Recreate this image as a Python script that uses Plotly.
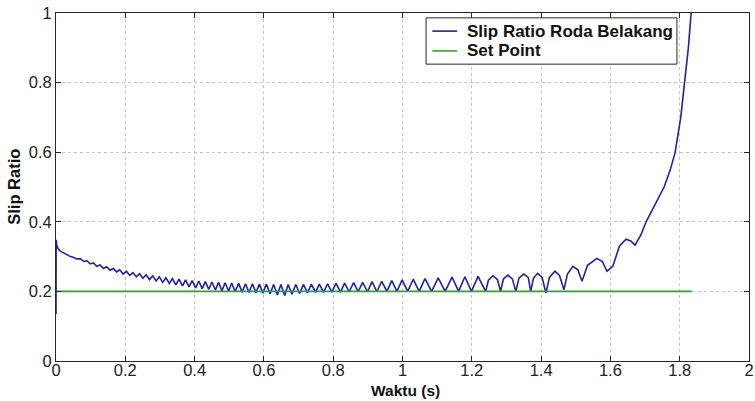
import plotly.graph_objects as go

# Rear-wheel slip ratio response (time in seconds)
time_s = [
    0.000, 0.0005, 0.002, 0.005, 0.010, 0.018, 0.026, 0.034, 0.042,
    0.050, 0.060, 0.070, 0.080, 0.089, 0.099, 0.108, 0.118, 0.127, 0.137,
    0.146, 0.156, 0.165, 0.175, 0.184, 0.194, 0.203, 0.213, 0.222, 0.232,
    0.241, 0.251, 0.260, 0.270, 0.279, 0.289, 0.298, 0.308, 0.317, 0.327,
    0.336, 0.346, 0.355, 0.365, 0.374, 0.384, 0.393, 0.403, 0.412, 0.422,
    0.431, 0.441, 0.450, 0.460, 0.469, 0.479, 0.488, 0.498, 0.507, 0.517,
    0.527, 0.537, 0.547, 0.557, 0.567, 0.577, 0.587, 0.597, 0.607, 0.618,
    0.628, 0.639, 0.649, 0.660, 0.670, 0.681, 0.692, 0.703, 0.714, 0.726,
    0.737, 0.749, 0.760, 0.772, 0.784, 0.796, 0.808, 0.821, 0.833, 0.846,
    0.859, 0.872, 0.885, 0.899, 0.912, 0.926, 0.940, 0.955, 0.969, 0.984,
    0.999, 1.015, 1.031, 1.048, 1.065, 1.084, 1.103, 1.123, 1.143, 1.162,
    1.180, 1.199, 1.218, 1.240, 1.248, 1.261, 1.274, 1.283, 1.291, 1.304,
    1.317, 1.327, 1.336, 1.350, 1.363, 1.370, 1.378, 1.390, 1.403, 1.414,
    1.424, 1.440, 1.453, 1.466, 1.476, 1.492, 1.506, 1.518, 1.534, 1.561,
    1.577, 1.590, 1.607, 1.626, 1.645, 1.659, 1.671, 1.688, 1.703, 1.730,
    1.755, 1.773, 1.787, 1.803, 1.815, 1.825, 1.833,
]
slip_ratio = [
    0.135, 0.348, 0.335, 0.325, 0.318, 0.313, 0.308, 0.304, 0.300,
    0.298, 0.293, 0.294, 0.286, 0.288, 0.279, 0.282, 0.272, 0.276, 0.266,
    0.271, 0.261, 0.266, 0.256, 0.262, 0.250, 0.258, 0.246, 0.254, 0.242,
    0.251, 0.238, 0.248, 0.234, 0.245, 0.230, 0.242, 0.226, 0.239, 0.223,
    0.237, 0.219, 0.235, 0.216, 0.233, 0.213, 0.231, 0.210, 0.230, 0.208,
    0.228, 0.206, 0.227, 0.204, 0.226, 0.202, 0.225, 0.201, 0.224, 0.199,
    0.223, 0.198, 0.222, 0.197, 0.222, 0.196, 0.221, 0.195, 0.221, 0.193,
    0.220, 0.190, 0.220, 0.188, 0.220, 0.192, 0.220, 0.194, 0.220, 0.196,
    0.221, 0.197, 0.221, 0.197, 0.222, 0.198, 0.223, 0.198, 0.224, 0.199,
    0.225, 0.199, 0.226, 0.199, 0.228, 0.199, 0.229, 0.200, 0.231, 0.200,
    0.233, 0.200, 0.235, 0.200, 0.237, 0.200, 0.239, 0.200, 0.241, 0.200,
    0.242, 0.200, 0.243, 0.200, 0.232, 0.245, 0.234, 0.200, 0.235, 0.247,
    0.236, 0.200, 0.238, 0.250, 0.240, 0.200, 0.238, 0.252, 0.240, 0.195,
    0.240, 0.258, 0.246, 0.205, 0.250, 0.272, 0.262, 0.229, 0.275, 0.295,
    0.286, 0.258, 0.272, 0.330, 0.350, 0.345, 0.333, 0.362, 0.400, 0.450,
    0.500, 0.550, 0.600, 0.700, 0.800, 0.900, 1.000,
]

# Target slip ratio
setpoint_time = [0.0, 1.835]
setpoint_value = [0.2, 0.2]

series_names = ["Slip Ratio Roda Belakang", "Set Point"]
series_colors = ["#22229a", "#3a9a3a"]

x_ticks = [0, 0.2, 0.4, 0.6, 0.8, 1, 1.2, 1.4, 1.6, 1.8, 2]
y_ticks = [0, 0.2, 0.4, 0.6, 0.8, 1]

font_family = "Liberation Sans, Arial, sans-serif"
ink = "#262626"

fig = go.Figure()
fig.add_trace(go.Scatter(
    x=time_s, y=slip_ratio, mode="lines", name=series_names[0],
    line=dict(color=series_colors[0], width=1.6),
))
fig.add_trace(go.Scatter(
    x=setpoint_time, y=setpoint_value, mode="lines", name=series_names[1],
    line=dict(color=series_colors[1], width=1.8),
))

axis_common = dict(
    showline=True, linecolor=ink, linewidth=1, mirror="ticks",
    ticks="inside", ticklen=5, tickcolor=ink,
    showgrid=True, gridcolor="#c4c4c4", griddash="dot", gridwidth=1,
    zeroline=False, automargin=False,
    tickfont=dict(family=font_family, size=16.5, color="#222222"),
)

title_font = dict(family=font_family, size=15.5, color="#111111", weight="bold")

# Compact boxed legend drawn in paper coordinates
legend_box = dict(x0=0.534, x1=0.896, y0=0.853, y1=0.986)
legend_rows_y = [0.948, 0.891]
sample_x = (0.543, 0.579)
text_x = 0.590

shapes = [dict(type="rect", xref="paper", yref="paper",
               line=dict(color=ink, width=1), fillcolor="white", layer="above",
               **legend_box)]
annotations = []
for name, color, ry in zip(series_names, series_colors, legend_rows_y):
    shapes.append(dict(type="line", xref="paper", yref="paper", layer="above",
                       x0=sample_x[0], x1=sample_x[1], y0=ry, y1=ry,
                       line=dict(color=color, width=1.6)))
    annotations.append(dict(xref="paper", yref="paper", x=text_x, y=ry,
                            xanchor="left", yanchor="middle", showarrow=False,
                            text=name,
                            font=dict(family=font_family, size=17,
                                      color="#111111", weight="bold")))

# Axis titles
annotations.append(dict(xref="paper", yref="paper", x=0.504, y=-0.086,
                        xanchor="center", yanchor="middle", showarrow=False,
                        borderpad=0,
                        text="Waktu (s)", font=title_font))
annotations.append(dict(xref="paper", yref="paper", x=-0.061, y=0.5,
                        xanchor="center", yanchor="middle", showarrow=False,
                        textangle=-90, text="Slip Ratio",
                        font=dict(title_font, size=16.5)))

fig.update_layout(
    width=755, height=401,
    margin=dict(l=56, r=6, t=13, b=40),
    paper_bgcolor="white", plot_bgcolor="white",
    showlegend=False,
    shapes=shapes,
    annotations=annotations,
    xaxis=dict(range=[0, 2], tickvals=x_ticks,
               ticktext=[f"{v:g}" for v in x_ticks],
               ticklabelstandoff=-6, **axis_common),
    yaxis=dict(range=[0, 1], tickvals=y_ticks,
               ticktext=[f"{v:g}" for v in y_ticks],
               ticklabelstandoff=0, **axis_common),
)

fig.write_html("out.html")
